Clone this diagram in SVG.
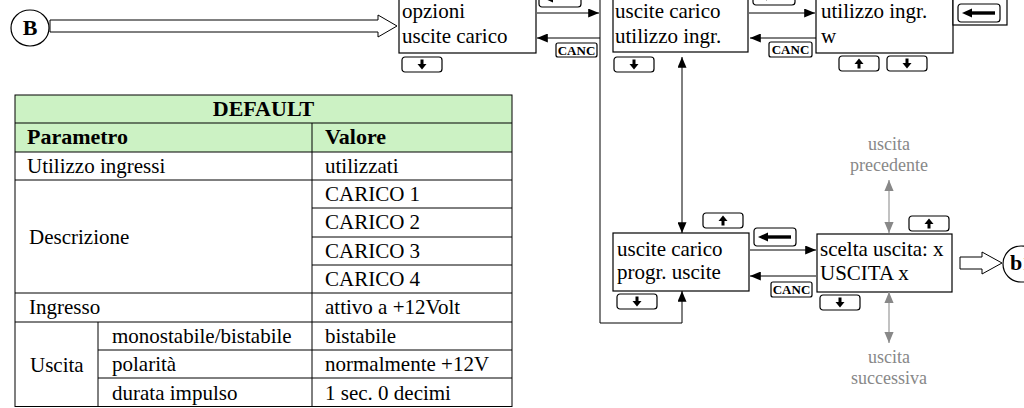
<svg xmlns="http://www.w3.org/2000/svg" xmlns:xlink="http://www.w3.org/1999/xlink" width="1024" height="408" viewBox="0 0 1024 408">
<style>
.box{fill:#fff;stroke:#000;stroke-width:1.2}
.t{font-family:"Liberation Serif","Times New Roman",serif;font-size:21px;fill:#000}
.tb{font-family:"Liberation Serif","Times New Roman",serif;font-size:22px;font-weight:bold;fill:#000}
.g{font-family:"Liberation Serif","Times New Roman",serif;font-size:18px;fill:#888;text-anchor:middle}
.canc{font-family:"Liberation Serif","Times New Roman",serif;font-size:13px;font-weight:bold;fill:#000;text-anchor:middle}
.btn{fill:#fff;stroke:#000;stroke-width:1.2}
.c{fill:none;stroke:#000;stroke-width:1}
.cg{fill:none;stroke:#999;stroke-width:1.2}
.hollow{fill:#fff;stroke:#000;stroke-width:1}
.tl{stroke:#000;stroke-width:1;fill:none}
</style>
<defs>
<marker id="ah" viewBox="0 0 12 10" refX="12" refY="5" markerWidth="12" markerHeight="9" orient="auto-start-reverse" markerUnits="userSpaceOnUse"><path d="M0,0 L12,5 L0,10 z" fill="#000"/></marker>
<marker id="ahg" viewBox="0 0 12 10" refX="12" refY="5" markerWidth="11" markerHeight="10" orient="auto-start-reverse" markerUnits="userSpaceOnUse"><path d="M0,0 L12,5 L0,10 z" fill="#888"/></marker>
<g id="bDown"><rect class="btn" x="0" y="0" width="40" height="15" rx="3"/><rect x="18.5" y="2.5" width="3" height="5" fill="#000"/><path d="M15.5,7 H24.5 L20,12.5 z" fill="#000"/></g>
<g id="bUp"><rect class="btn" x="0" y="0" width="40" height="15" rx="3"/><rect x="18.5" y="7.5" width="3" height="5" fill="#000"/><path d="M15.5,8 H24.5 L20,2.5 z" fill="#000"/></g>
<g id="bLeft"><rect class="btn" x="0" y="0" width="42" height="18" rx="3"/><rect x="13" y="7.3" width="24" height="3.4" fill="#000"/><path d="M4,9 L14,4.5 V13.5 z" fill="#000"/></g>
</defs>

<g id="node-B"><ellipse cx="30" cy="28" rx="19" ry="18" fill="#fff" stroke="#000" stroke-width="1.2"/><text class="tb" x="30" y="35" text-anchor="middle" font-size="19">B</text></g>

<g id="node-opzioni">
<rect class="box" x="399" y="-5" width="137" height="58"/>
<text class="t" x="402" y="18">opzioni</text>
<text class="t" x="402" y="43">uscite carico</text>
<use xlink:href="#bDown" x="402" y="57"/>
<use xlink:href="#bLeft" x="539" y="-11"/>
</g>

<g id="node-utilizzo">
<rect class="box" x="613" y="-5" width="135" height="57"/>
<text class="t" x="615" y="18">uscite carico</text>
<text class="t" x="615" y="43">utilizzo ingr.</text>
<use xlink:href="#bDown" x="614" y="57"/>
<use xlink:href="#bLeft" x="753" y="-13"/>
</g>

<g id="node-w">
<rect class="box" x="816" y="-5" width="137" height="58"/>
<rect class="box" x="953" y="-5" width="54" height="30"/>
<text class="t" x="821" y="18">utilizzo ingr.</text>
<text class="t" x="821" y="43">w</text>
<use xlink:href="#bUp" x="839" y="56"/>
<use xlink:href="#bDown" x="887" y="56"/>
<use xlink:href="#bLeft" x="958" y="4"/>
</g>

<g id="node-progr">
<rect class="box" x="613" y="233" width="136" height="58"/>
<text class="t" x="617" y="256">uscite carico</text>
<text class="t" x="617" y="279">progr. uscite</text>
<use xlink:href="#bUp" x="703" y="213"/>
<use xlink:href="#bDown" x="617" y="294"/>
<use xlink:href="#bLeft" x="754" y="228"/>
</g>

<g id="node-scelta">
<rect class="box" x="817" y="234" width="135" height="58"/>
<text class="t" x="820" y="256">scelta uscita: x</text>
<text class="t" x="820" y="280">USCITA x</text>
<use xlink:href="#bUp" x="909" y="216"/>
<use xlink:href="#bDown" x="820" y="295"/>
</g>

<g id="node-b1"><circle cx="1021" cy="264" r="18" fill="#fff" stroke="#000" stroke-width="1.2"/><text class="tb" x="1010" y="270" font-size="17">b1</text></g>

<g id="labels-grey">
<text class="g" x="889" y="150">uscita</text>
<text class="g" x="889" y="171">precedente</text>
<text class="g" x="889" y="363">uscita</text>
<text class="g" x="889" y="384">successiva</text>
</g>

<g id="connectors">
<path class="hollow" d="M50,20 H378 V15 L397,26 L378,37 V32 H50 z"/>
<path class="hollow" d="M960,257 H982 V252 L1002,263 L982,274 V269 H960 z"/>
<path class="c" d="M537,13 H599" marker-end="url(#ah)"/>
<path class="c" d="M600,38 H537" marker-end="url(#ah)"/>
<path class="c" d="M600,0 V323 H682 V291" marker-end="url(#ah)"/>
<path class="c" d="M682,57 V233" marker-start="url(#ah)" marker-end="url(#ah)"/>
<path class="c" d="M749,13 H815" marker-end="url(#ah)"/>
<path class="c" d="M816,38 H750" marker-end="url(#ah)"/>
<path class="c" d="M750,250 H816" marker-end="url(#ah)"/>
<path class="c" d="M816,276 H750" marker-end="url(#ah)"/>
<path class="cg" d="M889,180 V233" marker-start="url(#ahg)" marker-end="url(#ahg)"/>
<path class="cg" d="M889,292 V343" marker-start="url(#ahg)" marker-end="url(#ahg)"/>
<rect class="btn" x="556" y="43" width="41" height="14" rx="2"/><text class="canc" x="576.5" y="54.5">CANC</text>
<rect class="btn" x="769" y="42" width="43" height="15" rx="2"/><text class="canc" x="790.5" y="54">CANC</text>
<rect class="btn" x="771" y="282" width="41" height="15" rx="2"/><text class="canc" x="791.5" y="294">CANC</text>
</g>

<g id="table">
<rect x="15" y="95" width="497" height="57" fill="#ccf2c4"/>
<rect class="tl" x="15" y="95" width="497" height="311.5"/>
<path class="tl" d="M15,123 H512 M15,152 H512 M15,180 H512 M15,293 H512 M15,322 H512 M312,208 H512 M312,237 H512 M312,265 H512 M98,350 H512 M98,378 H512 M312,123 V406.5 M98,322 V406.5"/>
<text class="tb" x="263.5" y="116" text-anchor="middle">DEFAULT</text>
<text class="tb" x="27" y="144">Parametro</text>
<text class="tb" x="325" y="144">Valore</text>
<text class="t" x="27" y="173">Utilizzo ingressi</text>
<text class="t" x="325" y="173">utilizzati</text>
<text class="t" x="29" y="244">Descrizione</text>
<text class="t" x="325" y="201">CARICO 1</text>
<text class="t" x="325" y="229">CARICO 2</text>
<text class="t" x="325" y="258">CARICO 3</text>
<text class="t" x="325" y="286">CARICO 4</text>
<text class="t" x="29" y="314">Ingresso</text>
<text class="t" x="325" y="314">attivo a +12Volt</text>
<text class="t" x="30" y="372">Uscita</text>
<text class="t" x="112" y="343">monostabile/bistabile</text>
<text class="t" x="325" y="343">bistabile</text>
<text class="t" x="112" y="371">polarità</text>
<text class="t" x="325" y="371">normalmente +12V</text>
<text class="t" x="112" y="400">durata impulso</text>
<text class="t" x="325" y="400">1 sec. 0 decimi</text>
</g>
</svg>
